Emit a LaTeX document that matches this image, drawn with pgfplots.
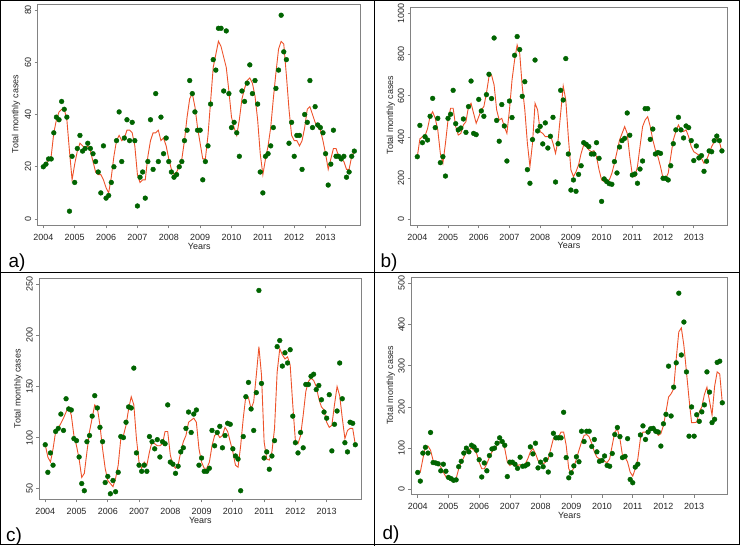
\documentclass[border=0pt]{standalone}
\usepackage{fontspec}
\setmainfont{Liberation Sans}
\usepackage{pgfplots}
\usepackage{pgfplotstable}
\pgfplotsset{compat=1.18}
\definecolor{dotgreen}{RGB}{0,100,0}
\definecolor{fitred}{RGB}{238,82,42}
\definecolor{boxgray}{RGB}{130,130,130}

\pgfplotstableread{
m d f
0 20 20
1 21 21
2 23 23
3 23 24
4 33 33
5 39 38
6 38 41
7 45 42
8 42 42
9 39 38
10 3 26
11 24 15
12 14 21
13 27 26
14 32 29
15 26 28
16 27 27
17 29 28
18 27 26
19 25 22
20 22 18
21 18 17
22 10 17
23 28 15
24 8 12
25 9 10
26 14 16
27 20 24
28 30 30
29 41 32
30 22 30
31 31 31
32 38 34
33 30 34
34 37 33
35 30 28
36 5 17
37 16 14
38 18 15
39 8 15
40 22 24
41 38 30
42 19 33
43 48 33
44 22 34
45 39 30
46 25 31
47 31 28
48 22 23
49 18 19
50 16 17
51 17 18
52 20 20
53 22 23
54 30 30
55 34 39
56 53 46
57 48 48
58 41 43
59 34 35
60 34 29
61 15 23
62 22 23
63 28 32
64 44 45
65 61 58
66 57 63
67 73 68
68 73 66
69 49 62
70 72 58
71 48 49
72 35 39
73 37 35
74 33 32
75 24 38
76 49 46
77 45 50
78 52 53
79 59 54
80 48 52
81 53 47
82 44 38
83 18 25
84 10 17
85 24 23
86 25 28
87 28 35
88 35 46
89 50 56
90 57 65
91 78 68
92 64 67
93 61 55
94 29 42
95 37 32
96 24 30
97 32 30
98 32 28
99 19 30
100 40 35
101 37 42
102 53 43
103 35 40
104 43 37
105 36 35
106 35 34
107 33 30
108 25 25
109 13 19
110 21 23
111 34 27
112 24 27
113 24 24
114 23 23
115 24 22
116 16 19
117 18 19
118 24 24
119 26 26
}\dataA

\pgfplotstableread{
m d f
0 304 304
1 456 390
2 372 401
3 401 405
4 385 440
5 500 500
6 587 522
7 445 490
8 490 434
9 275 320
10 304 272
11 210 369
12 490 482
13 510 539
14 626 539
15 464 450
16 434 409
17 443 417
18 487 458
19 422 474
20 547 547
21 671 563
22 417 514
23 411 466
24 582 498
25 526 531
26 500 547
27 605 612
28 704 692
29 586 700
30 880 652
31 480 531
32 379 482
33 557 490
34 453 450
35 283 417
36 574 531
37 494 676
38 796 773
39 887 846
40 824 806
41 597 644
42 668 531
43 241 369
44 175 256
45 387 369
46 773 563
47 429 531
48 451 425
49 366 417
50 468 401
51 346 401
52 403 409
53 495 369
54 181 320
55 367 385
56 626 514
57 579 647
58 780 579
59 317 400
60 142 240
61 191 207
62 136 231
63 218 265
64 260 320
65 372 361
66 364 353
67 353 337
68 317 328
69 317 333
70 372 304
71 296 240
72 87 191
73 196 183
74 183 183
75 173 191
76 170 223
77 280 272
78 225 328
79 351 385
80 382 417
81 393 450
82 516 417
83 408 304
84 215 215
85 220 207
86 175 256
87 244 353
88 283 450
89 537 482
90 537 498
91 388 450
92 438 385
93 317 337
94 324 304
95 320 256
96 199 199
97 199 199
98 191 223
99 260 304
100 367 385
101 434 426
102 495 458
103 434 434
104 395 426
105 453 434
106 445 401
107 382 353
108 285 328
109 356 320
110 298 312
111 309 296
112 233 272
113 282 288
114 332 320
115 328 353
116 382 377
117 404 393
118 382 377
119 332 328
}\dataB

\pgfplotstableread{
m d f
0 93 93
1 66 81
2 85 76
3 73 89
4 106 106
5 109 109
6 123 114
7 107 119
8 138 125
9 128 130
10 127 122
11 99 102
12 97 92
13 81 79
14 55 61
15 48 65
16 96 86
17 102 106
18 121 119
19 141 132
20 129 129
21 110 112
22 96 89
23 56 70
24 62 58
25 45 55
26 58 52
27 47 60
28 66 73
29 101 99
30 100 102
31 115 112
32 130 128
33 129 140
34 168 132
35 85 99
36 73 76
37 67 70
38 73 76
39 67 73
40 101 86
41 96 96
42 89 94
43 98 92
44 81 92
45 96 94
46 94 106
47 132 106
48 76 83
49 74 73
50 65 70
51 72 73
52 86 86
53 90 96
54 109 102
55 125 115
56 105 117
57 123 119
58 127 115
59 73 89
60 80 76
61 67 70
62 67 70
63 70 76
64 107 92
65 92 102
66 105 104
67 111 100
68 90 102
69 102 110
70 114 106
71 113 96
72 89 86
73 82 73
74 79 71
75 48 92
76 101 119
77 140 141
78 154 139
79 128 128
80 107 135
81 144 161
82 244 189
83 153 161
84 80 96
85 86 79
86 69 78
87 82 86
88 97 109
89 189 164
90 195 187
91 170 181
92 183 177
93 173 179
94 186 171
95 121 132
96 95 97
97 85 94
98 105 102
99 90 122
100 152 145
101 152 155
102 160 158
103 162 156
104 147 150
105 151 138
106 137 130
107 125 127
108 119 115
109 142 110
110 87 112
111 113 132
112 126 150
113 173 141
114 138 119
115 95 99
116 86 107
117 115 109
118 114 109
119 93 93
}\dataC

\pgfplotstableread{
m d f
0 41 41
1 20 42
2 88 74
3 102 103
4 88 105
5 138 95
6 65 70
7 64 66
8 62 62
9 45 54
10 61 42
11 44 30
12 29 26
13 26 22
14 22 18
15 23 26
16 55 50
17 68 66
18 88 78
19 100 91
20 91 97
21 107 100
22 103 95
23 95 87
24 72 66
25 30 50
26 64 50
27 45 62
28 82 78
29 98 91
30 100 99
31 112 107
32 125 115
33 116 113
34 107 99
35 31 66
36 66 58
37 66 62
38 61 60
39 51 58
40 78 60
41 56 58
42 57 62
43 61 74
44 103 91
45 86 99
46 112 87
47 52 70
48 66 62
49 55 62
50 72 66
51 42 74
52 84 99
53 136 123
54 125 127
55 125 127
56 125 139
57 187 139
58 77 107
59 28 50
60 40 38
61 57 54
62 79 74
63 67 95
64 141 115
65 116 131
66 141 133
67 141 127
68 104 111
69 121 91
70 91 78
71 68 74
72 70 73
73 81 68
74 58 65
75 56 74
76 87 107
77 133 139
78 150 147
79 128 123
80 77 82
81 80 78
82 123 66
83 24 42
84 16 32
85 54 50
86 61 74
87 132 123
88 154 139
89 121 139
90 139 143
91 147 147
92 148 146
93 141 139
94 139 131
95 105 135
96 159 155
97 182 188
98 299 224
99 178 232
100 248 244
101 307 317
102 476 382
103 326 392
104 406 349
105 285 285
106 129 220
107 200 162
108 129 162
109 181 163
110 165 188
111 188 200
112 205 230
113 285 248
114 236 215
115 162 180
116 170 250
117 308 285
118 311 280
119 210 210
}\dataD

\pgfplotsset{
  panel/.style={
    scale only axis,
    anchor=south west,
    axis line style={draw=boxgray, line width=0.7bp},
    every tick/.style={draw=boxgray, line width=0.7bp},
    tick align=outside,
    major tick length=3bp,
    xtick pos=left, ytick pos=left,
    xtick={0,12,24,36,48,60,72,84,96,108},
    xticklabels={2004,2005,2006,2007,2008,2009,2010,2011,2012,2013},
    ticklabel style={font=\fontsize{9}{10}\selectfont, text=black!85},
    xticklabel style={yshift=-2.3bp},
    yticklabel style={rotate=90, anchor=south},
    /pgf/number format/assume math mode=true,
    /pgf/number format/1000 sep={},
    scaled y ticks=false,
  },
  dots/.style={only marks, mark=*, mark size=2.4bp, draw=dotgreen, fill=dotgreen, mark options={draw=dotgreen, fill=dotgreen}},
  fit/.style={no marks, draw=fitred, line width=0.9bp},
}

\begin{document}
\begin{tikzpicture}
\useasboundingbox (0,0) rectangle (740bp,546bp);
\fill[white] (0,0) rectangle (740bp,546bp);

% panel a
\begin{axis}[panel, at={(37.7bp,320.7bp)}, width=323bp, height=221.3bp,
  xmin=-2.16, xmax=121.44, ymin=-2.4, ymax=82.3, ytick={0,20,40,60,80}]
\addplot[dots] table[x=m, y=d] {\dataA};
\addplot[fit] table[x=m, y=f] {\dataA};
\end{axis}

% panel b
\begin{axis}[panel, at={(410.7bp,320.7bp)}, width=316.6bp, height=218bp,
  xmin=-2.58, xmax=121.1, ymin=-29, ymax=1029, ytick={0,200,400,600,800,1000}]
\addplot[dots] table[x=m, y=d] {\dataB};
\addplot[fit] table[x=m, y=f] {\dataB};
\end{axis}

% panel c
\begin{axis}[panel, at={(39.3bp,46.7bp)}, width=322bp, height=220.6bp,
  xmin=-2.28, xmax=121.3, ymin=39.6, ymax=255.5, ytick={50,100,150,200,250}]
\addplot[dots] table[x=m, y=d] {\dataC};
\addplot[fit] table[x=m, y=f] {\dataC};
\end{axis}

% panel d
\begin{axis}[panel, at={(411.3bp,51.3bp)}, width=316bp, height=217.4bp,
  xmin=-2.52, xmax=120.96, ymin=-13, ymax=514.6, ytick={0,100,200,300,400,500}]
\addplot[dots] table[x=m, y=d] {\dataD};
\addplot[fit] table[x=m, y=f] {\dataD};
\end{axis}

% axis titles
\begin{scope}[every node/.style={font=\fontsize{9}{10}\selectfont, text=black!85}]
\node at (199.2bp,300bp) {Years};
\node at (569bp,301bp) {Years};
\node at (200.3bp,25.7bp) {Years};
\node at (569.5bp,30.7bp) {Years};
\node[rotate=90] at (16bp,432bp) {Total monthly cases};
\node[rotate=90] at (390.7bp,431bp) {Total monthly cases};
\node[rotate=90] at (18.3bp,157.3bp) {Total monthly cases};
\node[rotate=90] at (390.7bp,160.7bp) {Total monthly cases};
\end{scope}

% panel letters
\begin{scope}[every node/.style={font=\fontsize{19}{21}\selectfont}]
\node at (17bp,283bp) {a)};
\node at (389bp,283bp) {b)};
\node at (14bp,9bp) {c)};
\node at (391bp,11.5bp) {d)};
\end{scope}

% panel frames
\draw[black, line width=1.2bp] (0.8bp,1.8bp) rectangle (739.2bp,545.4bp);
\draw[black, line width=1.1bp] (374.3bp,0bp) -- (374.3bp,546bp);
\draw[black, line width=1.1bp] (0bp,273.7bp) -- (740bp,273.7bp);
\end{tikzpicture}
\end{document}
